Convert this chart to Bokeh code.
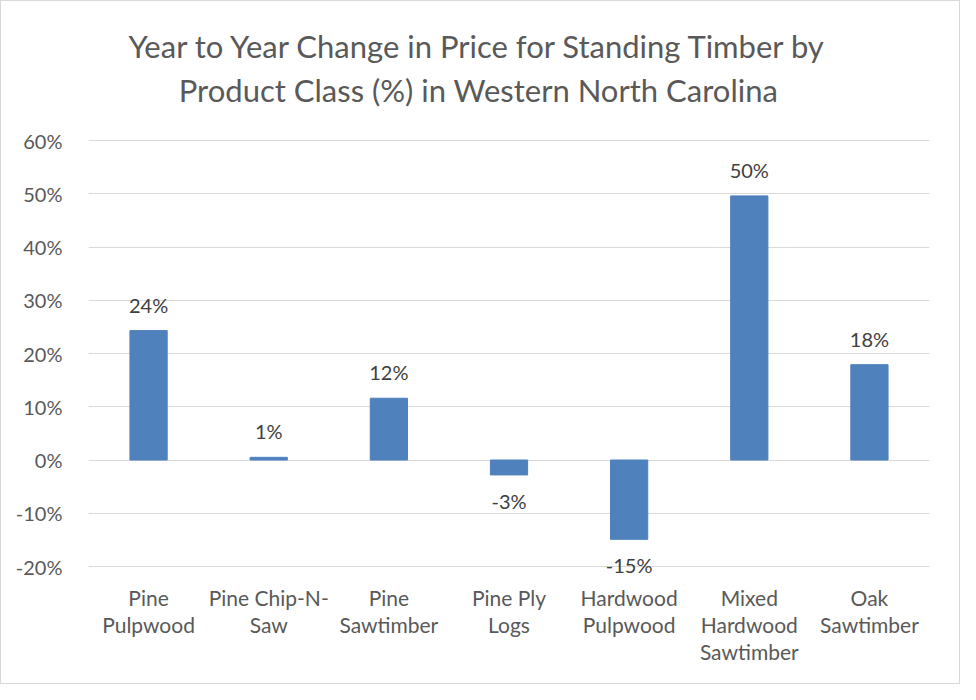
from bokeh.plotting import figure
from bokeh.models import (FactorRange, Range1d, FixedTicker, PrintfTickFormatter,
                          Label, ColumnDataSource)
from bokeh.core.properties import value
from bokeh.embed import file_html
from bokeh.resources import INLINE

# ---- data ----
categories = ["Pine Pulpwood", "Pine Chip-N-Saw", "Pine Sawtimber", "Pine Ply Logs",
              "Hardwood Pulpwood", "Mixed Hardwood Sawtimber", "Oak Sawtimber"]
tick_labels = ["Pine\nPulpwood", "Pine Chip-N-\nSaw", "Pine\nSawtimber", "Pine Ply\nLogs",
               "Hardwood\nPulpwood", "Mixed\nHardwood\nSawtimber", "Oak\nSawtimber"]
changes = [24.3, 0.5, 11.6, -2.8, -14.9, 49.6, 17.9]
value_labels = ["24%", "1%", "12%", "-3%", "-15%", "50%", "18%"]
y_ticks = [-20, -10, 0, 10, 20, 30, 40, 50, 60]
title_lines = ["Year to Year Change in Price for Standing Timber by",
               "Product Class (%) in Western North Carolina"]

FONT = "Lato"
BAR = "#4F81BD"
W, H = 960, 684

# layout (pixels in the canvas)
grid_top_px, grid_bot_px = 139, 565        # where 60% and -20% lie
frame_bot_px = 577                         # frame extends a bit below -20% line
left_px, right_px = 87, 928
ppu = (grid_bot_px - grid_top_px) / (y_ticks[-1] - y_ticks[0])
y_max = y_ticks[-1] + grid_top_px / ppu
y_min = y_ticks[0] - (frame_bot_px - grid_bot_px) / ppu

p = figure(x_range=FactorRange(*tick_labels, range_padding=0),
           y_range=Range1d(y_min, y_max),
           width=W, height=H, output_backend="svg", toolbar_location=None,
           min_border_left=left_px, min_border_right=W - right_px,
           min_border_top=0, min_border_bottom=H - frame_bot_px)
p.outline_line_color = None
p.background_fill_color = "white"
p.border_fill_color = "white"
p.styles = {"border": "1px solid #D9D9D9"}

src = ColumnDataSource(dict(
    cat=tick_labels, name=categories, val=changes, lab=value_labels,
    off=[-26 if v >= 0 else 26 for v in changes]))

p.vbar(x="cat", top="val", bottom=0, width=0.31, source=src,
       fill_color=BAR, line_color=BAR, line_width=1)

p.text(x="cat", y="val", text="lab", y_offset="off", source=src,
       text_align="center", text_baseline="middle",
       text_font=value(FONT), text_font_size="20px", text_color="#404040")

# axes
p.yaxis.ticker = FixedTicker(ticks=y_ticks)
p.yaxis.formatter = PrintfTickFormatter(format="%d%%")
for ax in (p.xaxis[0], p.yaxis[0]):
    ax.axis_line_color = None
    ax.major_tick_line_color = None
    ax.minor_tick_line_color = None
    ax.major_label_text_font = FONT
    ax.major_label_text_color = "#595959"
p.yaxis.major_label_text_font_size = "20px"
p.xaxis.major_label_text_font_size = "21px"
p.yaxis.major_label_standoff = 20
p.xaxis.major_label_standoff = 0
p.xaxis.major_label_text_line_height = 1.08

p.xgrid.grid_line_color = None
p.ygrid.grid_line_color = "#D9D9D9"
p.ygrid.grid_line_width = 1

# title (centered over the whole chart, two lines)
title_cx = 477 - left_px
for txt, cy in zip(title_lines, [44, 88]):
    p.add_layout(Label(x=title_cx, y=frame_bot_px - cy, x_units="screen", y_units="screen",
                       text=txt, text_align="center", text_baseline="middle",
                       text_font=FONT, text_font_size="31px", text_color="#595959"))

open("out.html", "w").write(file_html(p, INLINE))
